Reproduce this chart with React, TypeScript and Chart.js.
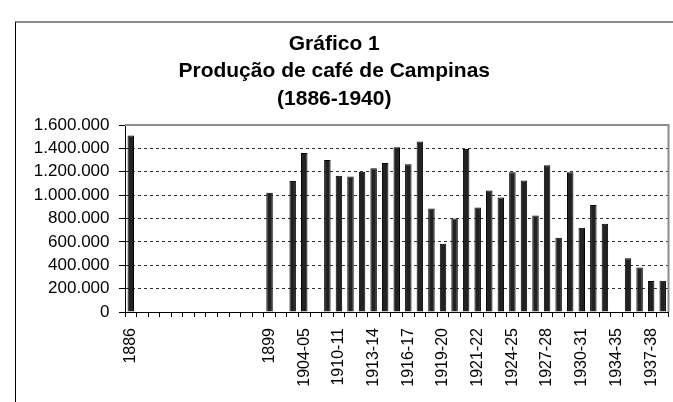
import React, { useEffect, useRef } from 'react';
import { Chart, registerables } from 'chart.js';

Chart.register(...registerables);

// Category labels (only every third one is printed on the axis, as in the reference)
const categories: string[] = [
  '1886', '', '', '', '', '', '', '', '', '', '', '',
  '1899', '', '', '1904-05', '', '', '1910-11', '', '', '1913-14', '', '',
  '1916-17', '', '', '1919-20', '', '', '1921-22', '', '', '1924-25', '', '',
  '1927-28', '', '', '1930-31', '', '', '1934-35', '', '', '1937-38', '',
];

// Coffee production
const production: (number | null)[] = [
  1510000, null, null, null, null, null, null, null, null, null, null, null,
  1020000, null, 1120000, 1360000, null, 1300000, 1165000, 1160000, 1200000, 1230000, 1275000, 1410000,
  1265000, 1460000, 885000, 585000, 800000, 1395000, 895000, 1040000, 980000, 1195000, 1125000, 825000,
  1255000, 635000, 1195000, 720000, 915000, 755000, null, 460000, 380000, 265000, 268000,
];

const titleLines: string[] = ['Gráfico 1', 'Produção de café de Campinas', '(1886-1940)'];
const yMin = 0;
const yMax = 1600000;
const yStep = 200000;
const labelEvery = 3;

const FONT = '"Liberation Sans", Arial, Helvetica, sans-serif';

const fmt = (v: number) => String(Math.round(v)).replace(/\B(?=(\d{3})+(?!\d))/g, '.');

const framePlugin = {
  id: 'framePlugin',
  beforeDraw(chart: any) {
    const { ctx, width, height } = chart;
    ctx.save();
    ctx.fillStyle = '#ffffff';
    ctx.fillRect(0, 0, width, height);
    // outer frame: grey top line, black left line
    ctx.strokeStyle = '#8c8c8c';
    ctx.lineWidth = 2;
    ctx.beginPath();
    ctx.moveTo(15, 22);
    ctx.lineTo(width, 22);
    ctx.stroke();
    ctx.strokeStyle = '#000000';
    ctx.lineWidth = 1;
    ctx.beginPath();
    ctx.moveTo(15.5, 22);
    ctx.lineTo(15.5, height);
    ctx.stroke();
    ctx.restore();
  },
  afterDraw(chart: any) {
    const { ctx, chartArea } = chart;
    ctx.save();
    ctx.strokeStyle = '#8c8c8c';
    ctx.lineWidth = 2;
    ctx.beginPath();
    ctx.moveTo(chartArea.left, chartArea.top);
    ctx.lineTo(chartArea.right, chartArea.top);
    ctx.lineTo(chartArea.right, chartArea.bottom);
    ctx.stroke();
    ctx.restore();
  },
};

export default function App() {
  const canvasRef = useRef<HTMLCanvasElement | null>(null);

  useEffect(() => {
    const canvas = canvasRef.current;
    if (!canvas) return;
    const chart = new Chart(canvas, {
      type: 'bar',
      data: {
        labels: categories,
        datasets: [
          {
            label: 'Produção',
            data: production,
            backgroundColor: '#222222',
            borderColor: '#000000',
            borderWidth: 1,
            barPercentage: 0.56,
            categoryPercentage: 1,
          },
        ],
      },
      plugins: [framePlugin],
      options: {
        responsive: false,
        animation: false,
        devicePixelRatio: 1,
        layout: { padding: { left: 0, right: 4.5, top: 0, bottom: 0 } },
        plugins: {
          legend: { display: false },
          tooltip: { enabled: false },
          title: {
            display: true,
            text: titleLines,
            color: '#000000',
            font: { family: FONT, size: 21, weight: 'bold', lineHeight: 1.31 },
            padding: { top: 30, bottom: 12.5 },
          },
        },
        scales: {
          x: {
            type: 'category',
            offset: true,
            afterFit: (scale: any) => {
              scale.height = 90;
              scale.paddingLeft = 0;
              scale.paddingRight = 0;
            },
            ticks: {
              autoSkip: false,
              minRotation: 90,
              maxRotation: 90,
              padding: 11,
              color: '#000000',
              font: { family: FONT, size: 16 },
              callback: (_v: any, i: number) => (i % labelEvery === 0 ? categories[i] : ''),
            },
            grid: {
              offset: true,
              drawOnChartArea: false,
              drawTicks: true,
              tickLength: 5,
              tickColor: '#000000',
            },
            border: { display: true, color: '#000000', width: 1 },
          },
          y: {
            min: yMin,
            max: yMax,
            afterFit: (scale: any) => {
              scale.width = 125;
            },
            ticks: {
              autoSkip: false,
              stepSize: yStep,
              padding: 9.5,
              color: '#000000',
              font: { family: FONT, size: 17 },
              callback: (v: any) => fmt(Number(v)),
            },
            grid: {
              drawTicks: true,
              tickLength: 6,
              tickColor: '#000000',
              color: (c: any) => (c.tick && c.tick.value >= yMax ? 'rgba(0,0,0,0)' : '#333333'),
              lineWidth: 1,
            },
            border: { display: true, color: '#000000', width: 1, dash: [3, 3] },
          },
        },
      },
    });
    return () => chart.destroy();
  }, []);

  return (
    <div style={{ position: 'absolute', left: 0, top: 0, width: 673, height: 402, background: '#fff' }}>
      <canvas ref={canvasRef} width={673} height={402} style={{ display: 'block' }} />
    </div>
  );
}
